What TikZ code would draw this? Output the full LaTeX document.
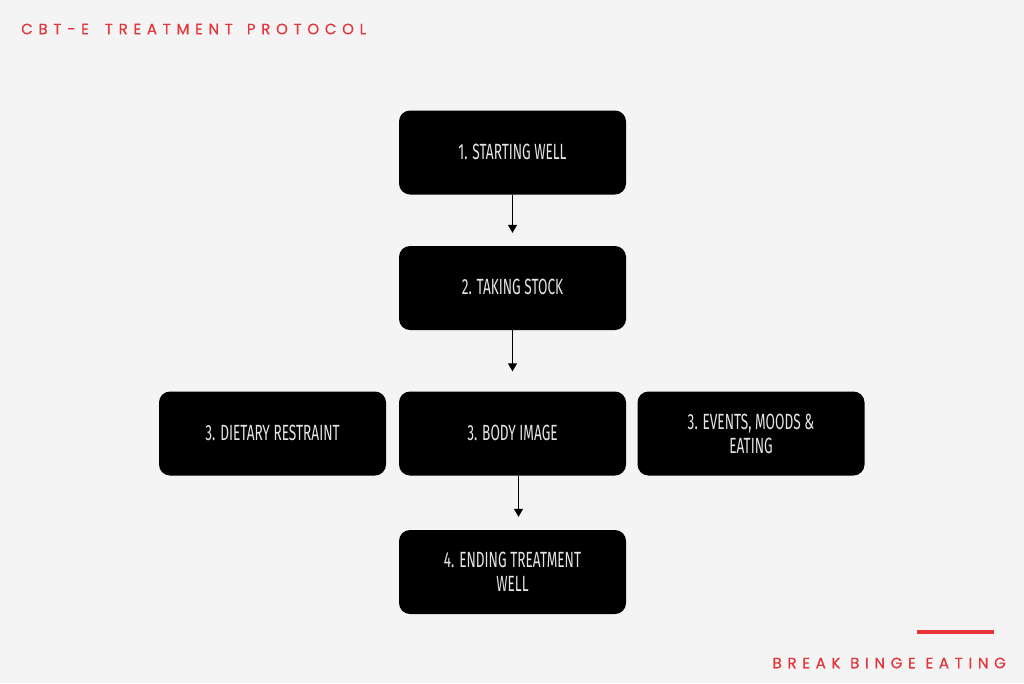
\documentclass[tikz,border=0pt]{standalone}
\usepackage{fontspec}
\setmainfont{Fira Sans}
\newfontfamily\boxfont[FakeStretch=0.62]{Fira Sans}
\newfontfamily\headfont[LetterSpace=38,FakeBold=0.4]{Poppins}
\definecolor{bg}{HTML}{F4F4F4}
\definecolor{accent}{HTML}{E5343A}
\usetikzlibrary{arrows.meta}
\tikzset{
  stage/.style={fill=black, rounded corners=11pt, minimum width=227pt, minimum height=84pt,
    text=white!90!black, align=center, font=\boxfont\fontsize{22}{24}\selectfont, inner sep=0pt},
  flow/.style={-{Triangle[length=8pt,width=9pt]}, line width=1.2pt, shorten >=13pt},
  head/.style={text=accent, font=\headfont\fontsize{15}{17}\selectfont, inner sep=0pt}
}
\begin{document}
\begin{tikzpicture}[x=1pt,y=-1pt]
\fill[bg] (0,0) rectangle (1024,683);
\useasboundingbox (0,0) rectangle (1024,683);
\node[head, anchor=west] (title) at (21,29) {CBT-E\hspace{16pt}TREATMENT\hspace{14pt}PROTOCOL};
\node[stage] (s1) at (512.5,152.5) {\raisebox{2pt}{1. STARTING WELL}};
\node[stage] (s2) at (512.5,288) {\raisebox{2pt}{2. TAKING STOCK}};
\node[stage] (s3a) at (272.5,433.5) {\raisebox{2pt}{3. DIETARY RESTRAINT}};
\node[stage] (s3b) at (512.5,433.5) {\raisebox{2pt}{3. BODY IMAGE}};
\node[stage] (s3c) at (751,433.5) {3. EVENTS, MOODS \&\\EATING};
\node[stage] (s4) at (512.5,572) {4. ENDING TREATMENT\\WELL};
\draw[flow] (s1.south) -- (s2.north);
\draw[flow, shorten >=20pt] (s2.south) -- (s3b.north);
\draw[flow] ([xshift=6pt]s3b.south) -- ([xshift=6pt]s4.north);
\coordinate (la) at (917,632);
\coordinate (lb) at (994,632);
\draw[accent, line width=4pt] (la) -- (lb);
\node[head, anchor=east] (brand) at (1006,663) {BREAK BINGE EATING};
\end{tikzpicture}
\end{document}
